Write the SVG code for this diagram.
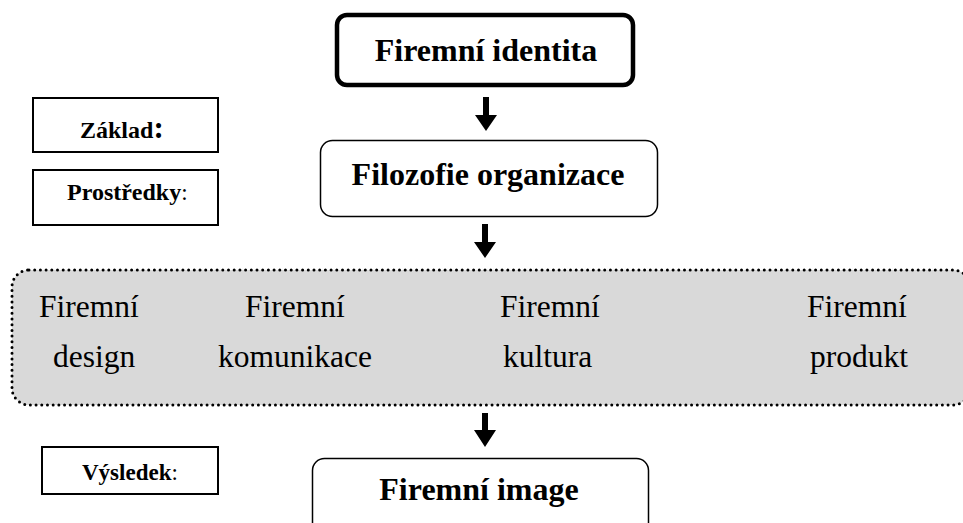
<svg xmlns="http://www.w3.org/2000/svg" width="963" height="523" viewBox="0 0 963 523" font-family="'Liberation Serif', 'DejaVu Serif', serif">
  <style>
    text { fill: #000; }
    .b { font-weight: bold; }
    .big { font-size: 32px; text-anchor: middle; font-weight: bold; }
    .lbl { font-size: 24px; font-weight: bold; }
    .item { font-size: 31.5px; }
    .box { fill: #fff; stroke: #000; }
    .arrow { fill: #000; stroke: none; }
  </style>
  <rect width="963" height="523" fill="#fff"/>

  <g id="identita">
    <rect class="box" x="337" y="15" width="296" height="70" rx="10" stroke-width="4.5"/>
    <text class="big" x="486" y="61">Firemní identita</text>
  </g>

  <g id="filozofie">
    <rect class="box" x="320.5" y="140.5" width="337" height="76" rx="12" stroke-width="1.5"/>
    <text class="big" x="488" y="185">Filozofie organizace</text>
  </g>

  <g id="zaklad">
    <rect class="box" x="33" y="98" width="185" height="54" stroke-width="2"/>
    <text x="80" y="138"><tspan class="lbl">Základ</tspan><tspan class="b" font-size="31">:</tspan></text>
  </g>

  <g id="prostredky">
    <rect class="box" x="33" y="170" width="185" height="55" stroke-width="2"/>
    <text x="67" y="200"><tspan class="lbl" font-size="23.5">Prostředky</tspan><tspan font-size="23">:</tspan></text>
  </g>

  <g id="nastroje">
    <rect x="12" y="270" width="958" height="135" rx="17" fill="#d9d9d9" stroke="#000" stroke-width="3" stroke-dasharray="0 5.7" stroke-linecap="round"/>
    <text class="item" x="39" y="317">Firemní</text>
    <text class="item" x="53" y="367">design</text>
    <text class="item" x="245" y="317">Firemní</text>
    <text class="item" x="218" y="367">komunikace</text>
    <text class="item" x="500" y="317">Firemní</text>
    <text class="item" x="503" y="367">kultura</text>
    <text class="item" x="807" y="317">Firemní</text>
    <text class="item" x="810" y="367">produkt</text>
  </g>

  <g id="vysledek">
    <rect class="box" x="42" y="447" width="176" height="47" stroke-width="2"/>
    <text x="82" y="480"><tspan class="b" font-size="23">Výsledek</tspan><tspan font-size="23">:</tspan></text>
  </g>

  <g id="image">
    <rect class="box" x="312.5" y="458.5" width="336" height="80" rx="12" stroke-width="1.5"/>
    <text class="big" x="479" y="500">Firemní image</text>
  </g>

  <g id="connectors">
    <path class="arrow" d="M483,97 h6 v18 h8 l-11,16 l-11,-16 h8 z"/>
    <path class="arrow" d="M482,224 h6 v18 h8 l-11,16 l-11,-16 h8 z"/>
    <path class="arrow" d="M482,413 h6 v17 h8 l-11,17 l-11,-17 h8 z"/>
  </g>
</svg>
